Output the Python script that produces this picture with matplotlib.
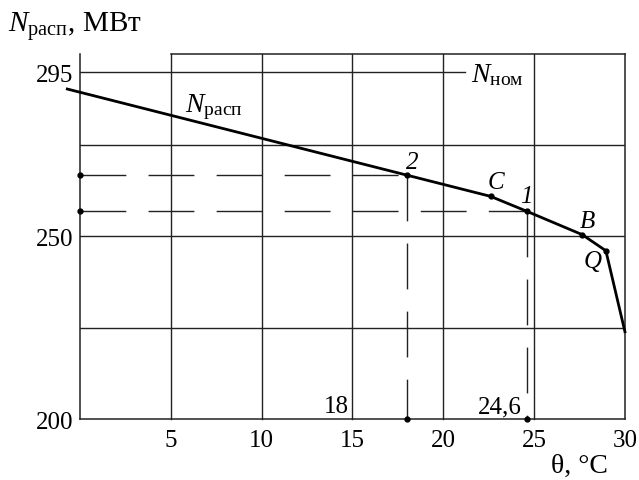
import matplotlib
matplotlib.use("Agg")
import matplotlib.pyplot as plt

plt.rcParams['font.family'] = ['Liberation Serif', 'DejaVu Serif']
plt.rcParams['mathtext.fontset'] = 'custom'
plt.rcParams['mathtext.rm'] = 'Liberation Serif'
plt.rcParams['mathtext.it'] = 'Liberation Serif:italic'

# curve N_расп(θ)
theta = [-0.7, 18.0, 22.6, 24.6, 27.65, 28.95, 30.0]
n_rasp = [290.4, 266.8, 261.0, 256.9, 250.5, 246.1, 223.9]

# marked points on the curve
pt_names = ['2', 'C', '1', 'B', 'Q']
pt_theta = [18.0, 22.6, 24.6, 27.65, 28.95]
pt_n = [266.8, 261.0, 256.9, 250.5, 246.1]

# construction lines for points 1 and 2
proj_theta = [18.0, 24.6]
proj_n = [266.8, 256.9]
proj_labels = ['18', '24,6']

n_nom = 295
x_ticks = [5, 10, 15, 20, 25, 30]
y_ticks = [200, 250, 295]
y_grid = [225, 250, 275]

fig = plt.figure(figsize=(6.39, 4.81), dpi=100)
ax = fig.add_axes([0.1252, 0.1268, 0.8528, 0.7589])
ax.set_xlim(0, 30)
ax.set_ylim(200, 300)

for s in ['top', 'right']:
    ax.spines[s].set_visible(False)
for s in ['left', 'bottom']:
    ax.spines[s].set_linewidth(1.1)
    ax.spines[s].set_color('#222222')

gc = '#222222'
for x in x_ticks[:-1]:
    ax.plot([x, x], [200, 300], color=gc, lw=1.0, clip_on=False)
ax.plot([30, 30], [200, 300], color=gc, lw=1.1, clip_on=False)
ax.plot([5, 30], [300, 300], color=gc, lw=1.1, clip_on=False)
for y in y_grid:
    ax.plot([0, 30], [y, y], color=gc, lw=1.0)
ax.plot([0, 21.2], [n_nom, n_nom], color=gc, lw=1.0)

# dashed projections
for x, y in zip(proj_theta, proj_n):
    ax.plot([0, x], [y, y], color=gc, lw=1.0, dashes=(33, 16))
    ax.plot([x, x], [y, 200], color=gc, lw=1.0, dashes=(33, 16))
    ax.plot([x], [200], 'o', color='black', ms=3.5, clip_on=False, zorder=5)
    ax.plot([0], [y], 'o', color='black', ms=3.5, clip_on=False, zorder=5)
ax.text(14.8, 201.9, proj_labels[0], ha='right', va='baseline', fontsize=18)
ax.text(24.3, 201.9, proj_labels[1], ha='right', va='baseline', fontsize=18)

ax.plot(theta, n_rasp, color='black', lw=2.0, clip_on=False, zorder=4)
ax.plot(pt_theta, pt_n, 'o', color='black', ms=3.5, zorder=5)

offs = {'2': (0.3, 3.5), 'C': (0.3, 3.9), '1': (0.0, 4.2), 'B': (0.3, 3.8), 'Q': (-0.75, -2.8)}
for name, x, y in zip(pt_names, pt_theta, pt_n):
    dx, dy = offs[name]
    ax.text(x + dx, y + dy, name, ha='center', va='center', fontsize=18, style='italic')

ax.text(5.8, 285.7, r'$N_{\mathrm{расп}}$', ha='left', va='center', fontsize=20)
ax.text(21.5, 294.4, r'$N_{\mathrm{ном}}$', ha='left', va='center', fontsize=20)

ax.set_xticks(x_ticks)
ax.set_yticks(y_ticks)
ax.tick_params(axis='x', length=0, labelsize=18, pad=7)
ax.tick_params(axis='y', length=0, labelsize=18, pad=5)

fig.text(0.013, 0.945, r'$N_{\mathrm{расп}}$, МВт', ha='left', va='center', fontsize=21)
fig.text(0.952, 0.03, 'θ, °C', ha='right', va='center', fontsize=20)

fig.savefig('out.png', dpi=100)
